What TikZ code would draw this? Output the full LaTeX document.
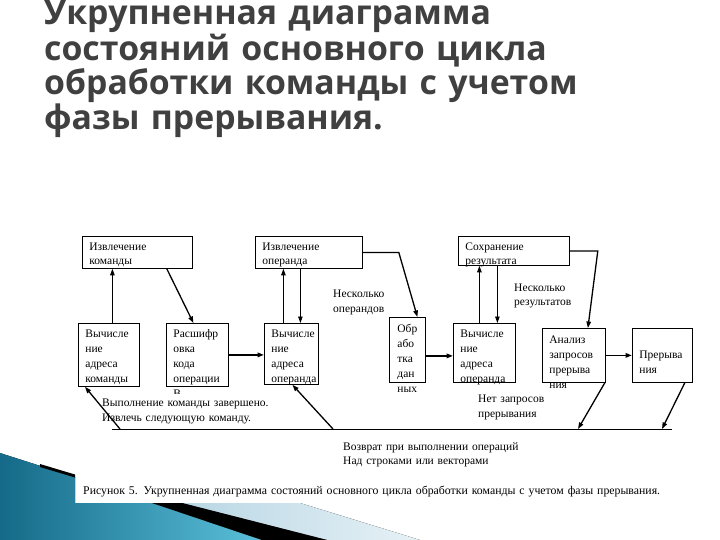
\documentclass[tikz,border=0pt]{standalone}
\usepackage{fontspec}
\setmainfont{Liberation Serif}
\newfontfamily\titlefont{Open Sans}
\usepackage{xcolor}
\usetikzlibrary{arrows.meta, positioning}
\definecolor{titlegray}{HTML}{404040}
\definecolor{tealdark}{HTML}{146A88}
\definecolor{teallight}{HTML}{5BC0DA}
\definecolor{paleblue}{HTML}{B9D7E5}
\hyphenpenalty=10000
\tikzset{
  ttl/.style={anchor=base west, align=left, text width=640pt, inner sep=0pt, text=titlegray, font=\titlefont\bfseries\fontsize{33.8}{33.7}\selectfont},
  box/.style={rectangle, draw=black, line width=0.8pt, align=left, anchor=north west, inner xsep=7pt, inner ysep=0pt, font=\fontsize{11.5}{15}\selectfont},
  topbox/.style={box, font=\fontsize{11.5}{14}\selectfont},
  lbl/.style={anchor=base west, align=left, text width=#1, inner sep=0pt, font=\fontsize{11.5}{15}\selectfont},
  lbl/.default=220pt,
  arr/.style={-{Triangle[length=6.5pt, width=4.5pt]}, line width=0.8pt},
  darr/.style={arr, line width=1.3pt},
  barr/.style={arr, line width=1.8pt},
}

\begin{document}
\begin{tikzpicture}[x=1pt, y=-1pt]
\useasboundingbox (0,0) rectangle (720,540);
% background decoration, bottom left
\fill[left color=tealdark, right color=teallight] (0,453) -- (75,477) -- (75,503) -- (152,503) -- (262,540) -- (0,540) -- cycle;
\fill[black] (152,503) -- (183,503) -- (328,540) -- (262,540) -- cycle;
\fill[black] (40,464) -- (75,474.5) -- (75,477.5) -- (40,467) -- cycle;
\fill[left color=paleblue, right color=paleblue!35] (183,503) -- (300,503) -- (420,540) -- (328,540) -- cycle;

\node[ttl] (title) at (44,25) {Укрупненная диаграмма\\состояний основного цикла\\обработки команды с учетом\\фазы прерывания.};

% states
\node[topbox, text width=96pt, text height=14pt, text depth=18pt] (fetchcmd) at (82,236) {Извлечение\\команды};
\node[topbox, text width=93pt, text height=14pt, text depth=18pt] (fetchop) at (255,236) {Извлечение\\операнда};
\node[topbox, text width=97pt, text height=14pt, text depth=15pt] (store) at (458,236) {Сохранение\\результата};
\node[box, text width=47pt, text height=14pt, text depth=49pt] (addrcmd) at (78,323) {Вычисле\\ние\\адреса\\команды};
\node[box, text width=48pt, text height=14pt, text depth=49pt] (decode) at (166,323) {Расшифр\\овка\\кода\\операции\\В};
\node[box, text width=40pt, text height=14pt, text depth=47pt] (addrop1) at (264,323) {Вычисле\\ние\\адреса\\операнда};
\node[box, inner xsep=8pt, text width=20pt, text height=15pt, text depth=50pt] (proc) at (389,317) {Обр\\або\\тка\\дан\\ных};
\node[box, text width=48pt, text height=14pt, text depth=45pt] (addrop2) at (453,323) {Вычисле\\ние\\адреса\\операнда};
\node[box, text width=49pt, text height=15pt, text depth=39pt] (analysis) at (542,328) {Анализ\\запросов\\прерыва\\ния};
\node[box, text width=46pt, text height=30pt, text depth=24pt] (intr) at (632,328) {Прерыва\\ния};

% labels
\node[lbl] (ops) at (333,297) {Несколько\\операндов};
\node[lbl, font=\fontsize{11.5}{14}\selectfont] (res) at (514,291) {Несколько\\результатов};
\node[lbl, fill=white, inner ysep=4pt] (done) at (102,406) {Выполнение команды завершено.\\Извлечь следующую команду.};
\node[lbl] (nointr) at (478,402) {Нет запросов\\прерывания};
\node[lbl=300pt, font=\fontsize{11.5}{14}\selectfont] (ret) at (343,450) {Возврат при выполнении операций\\Над строками или векторами};
\node[lbl=640pt, font=\fontsize{11.8}{13}\selectfont] (cap) at (83,494) {Рисунок 5. Укрупненная диаграмма состояний основного цикла обработки команды с учетом фазы прерывания.};

% return line
\coordinate (bl) at (112,429);
\coordinate (br) at (672,429);
\coordinate (r1) at (120,429);
\coordinate (r2) at (333,429);
\coordinate (q1) at (578,429);
\coordinate (q2) at (662,429);
\draw[line width=0.8pt] (bl) -- (br);

% transitions
\draw[arr] ([xshift=3.5pt]addrcmd.north) -- ([xshift=3.5pt]addrcmd.north |- fetchcmd.south);
\draw[darr] ([xshift=-26pt]fetchcmd.south east) -- ([xshift=-4pt]decode.north);
\draw[barr] (decode.east) -- (decode.east -| addrop1.west);
\draw[arr] ([xshift=-8pt]addrop1.north) -- ([xshift=-8pt]addrop1.north |- fetchop.south);
\draw[arr] ([xshift=9pt]addrop1.north |- fetchop.south) -- ([xshift=9pt]addrop1.north);
\draw[darr] (fetchop.east) -- ++(36,0) -- ([xshift=10pt]proc.north);
\draw[barr] ([yshift=-6pt]proc.east) -- ([yshift=-6pt]proc.east -| addrop2.west);
\draw[arr] ([xshift=-5pt]addrop2.north) -- ([xshift=-5pt]addrop2.north |- store.south);
\draw[arr] ([xshift=13pt]addrop2.north |- store.south) -- ([xshift=13pt]addrop2.north);
\draw[darr] (store.east) -- ++(28,0) -- ([xshift=14pt]analysis.north);
\draw[barr] (analysis.east) -- (analysis.east -| intr.west);
\draw[darr] ([xshift=-1pt]analysis.south east) -- (q1);
\draw[darr] ([xshift=-8pt]intr.south east) -- (q2);
\draw[darr] (r1) -- ([xshift=7pt]addrcmd.south west);
\draw[darr] (r2) -- ([xshift=1pt]addrop1.south);
\end{tikzpicture}
\end{document}
